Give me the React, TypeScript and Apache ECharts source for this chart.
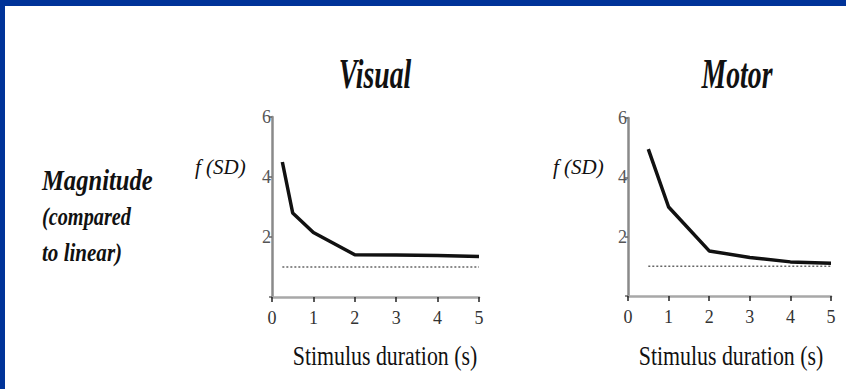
import React, { useEffect, useRef } from "react";
import * as echarts from "echarts";

const xTicks = [0, 1, 2, 3, 4, 5];
const yTicks = [2, 4, 6];
const visualX = [0.25, 0.5, 1, 2, 3, 4, 5];
const visualY = [4.5, 2.8, 2.15, 1.41, 1.4, 1.38, 1.35];
const motorX = [0.5, 1, 2, 3, 4, 5];
const motorY = [4.95, 3.0, 1.52, 1.3, 1.15, 1.1];
const visualBaselineX = [0.25, 5];
const motorBaselineX = [0.5, 5];
const baselineValue = 1;
const titles = ["Visual", "Motor"];
const yLabel = "f (SD)";
const xLabel = "Stimulus duration (s)";
const sideLabel = ["Magnitude", "(compared", "to linear)"];

const FONT = "Liberation Serif, Times New Roman, serif";

export default function App() {
  const ref = useRef<HTMLDivElement>(null);
  useEffect(() => {
    if (!ref.current) return;
    const chart = echarts.init(ref.current, null, { renderer: "svg" });
    const xAxisBase = (gridIndex: number) => ({
      type: "value",
      gridIndex,
      min: xTicks[0],
      max: xTicks[xTicks.length - 1],
      interval: 1,
      splitLine: { show: false },
      axisLine: { lineStyle: { color: "#a8a8a8", width: 2.5 } },
      axisTick: { length: 5, lineStyle: { color: "#222", width: 1.5 } },
      axisLabel: { fontFamily: FONT, fontSize: 18, color: "#333", margin: 12 },
    });
    const yAxisBase = (gridIndex: number) => ({
      type: "value",
      gridIndex,
      min: 0,
      max: yTicks[yTicks.length - 1],
      interval: 2,
      splitLine: { show: false },
      axisLine: { show: true, lineStyle: { color: "#8a8a8a", width: 2.5 } },
      axisTick: { show: true, length: 3, lineStyle: { color: "#666", width: 1.5 } },
      axisLabel: {
        fontFamily: FONT,
        fontSize: 18,
        color: "#555",
        margin: 1,
        formatter: (v: number) => (yTicks.includes(v) ? String(v) : ""),
      },
    });
    const lineSeries = (idx: number, xs: number[], ys: number[]) => ({
      type: "line",
      xAxisIndex: idx,
      yAxisIndex: idx,
      data: xs.map((x, i) => [x, ys[i]]),
      showSymbol: false,
      symbol: "none",
      lineStyle: { color: "#111", width: 3.5 },
      z: 3,
    });
    const baseSeries = (idx: number, xs: number[]) => ({
      type: "line",
      xAxisIndex: idx,
      yAxisIndex: idx,
      data: xs.map((x) => [x, baselineValue]),
      showSymbol: false,
      symbol: "none",
      lineStyle: { color: "#666", width: 1.5, type: [2, 2] },
      z: 2,
    });
    const txt = (
      text: string,
      x: number,
      y: number,
      size: number,
      scaleX: number,
      align: string,
      weight: string,
      style: string
    ) => ({
      type: "text",
      x,
      y,
      scaleX,
      style: {
        text,
        fontFamily: FONT,
        fontSize: size,
        fontWeight: weight,
        fontStyle: style,
        fill: "#111",
        textAlign: align,
        textVerticalAlign: "middle",
      },
    });
    chart.setOption({
      animation: false,
      backgroundColor: "#ffffff",
      grid: [
        { left: 272, top: 117, width: 207, height: 180 },
        { left: 628, top: 118, width: 203, height: 178 },
      ],
      xAxis: [xAxisBase(0), xAxisBase(1)],
      yAxis: [yAxisBase(0), yAxisBase(1)],
      series: [
        lineSeries(0, visualX, visualY),
        baseSeries(0, visualBaselineX),
        lineSeries(1, motorX, motorY),
        baseSeries(1, motorBaselineX),
      ],
      graphic: [
        { type: "rect", shape: { x: 0, y: 0, width: 846, height: 6 }, style: { fill: "#003399" } },
        { type: "rect", shape: { x: 0, y: 0, width: 5, height: 389 }, style: { fill: "#003399" } },
        txt(titles[0], 375, 74, 42, 0.66, "center", "bold", "italic"),
        txt(titles[1], 737, 74, 42, 0.66, "center", "bold", "italic"),
        txt(yLabel, 195, 167, 21, 1, "left", "normal", "italic"),
        txt(yLabel, 553, 167, 21, 1, "left", "normal", "italic"),
        txt(xLabel, 385, 356, 27, 0.81, "center", "normal", "normal"),
        txt(xLabel, 731, 356, 27, 0.81, "center", "normal", "normal"),
        txt(sideLabel[0], 42, 180, 30, 0.82, "left", "bold", "italic"),
        txt(sideLabel[1], 42, 216, 26, 0.78, "left", "bold", "italic"),
        txt(sideLabel[2], 42, 252, 26, 0.81, "left", "bold", "italic"),
      ],
    });
    return () => chart.dispose();
  }, []);
  return (
    <div
      ref={ref}
      style={{ position: "absolute", left: 0, top: 0, width: 846, height: 389 }}
    />
  );
}
